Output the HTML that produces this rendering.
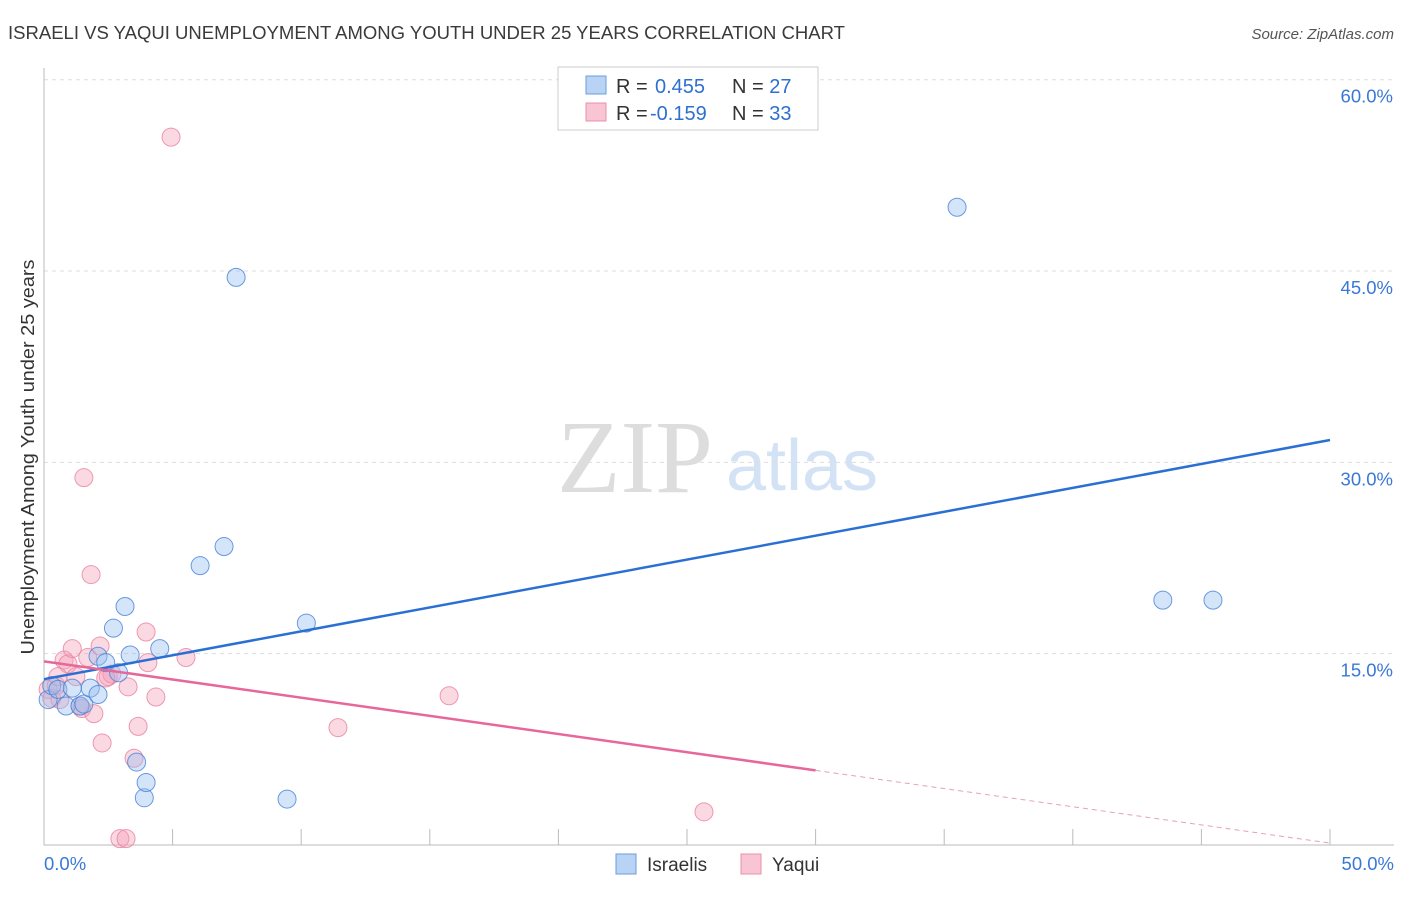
<!DOCTYPE html>
<html><head><meta charset="utf-8"><style>
body{margin:0;background:#fff;font-family:"Liberation Sans",sans-serif}
</style></head><body>
<svg id="c" width="1406" height="892" xmlns="http://www.w3.org/2000/svg">
<text x="8" y="39" font-size="18" fill="#3a3a3a" textLength="837" lengthAdjust="spacingAndGlyphs">ISRAELI VS YAQUI UNEMPLOYMENT AMONG YOUTH UNDER 25 YEARS CORRELATION CHART</text>
<text x="1394" y="39" font-size="15" fill="#555" font-style="italic" text-anchor="end">Source: ZipAtlas.com</text>
<text x="635" y="492" font-size="104" fill="#ddd" font-family="Liberation Serif" text-anchor="middle">ZIP</text>
<text x="802" y="490" font-size="72" fill="#d3e2f5" text-anchor="middle">atlas</text>
<text x="0" y="0" transform="translate(34,457) rotate(-90)" font-size="18" fill="#333" text-anchor="middle" textLength="395" lengthAdjust="spacingAndGlyphs">Unemployment Among Youth under 25 years</text>
<g id="grid"></g><g id="pts"></g><g id="lines"></g>
<g>
<rect x="558" y="67" width="260" height="63" fill="#fff" stroke="#ccc"/>
<rect x="586" y="76" width="20" height="18" fill="#b9d3f5" stroke="#6a9ee0"/>
<rect x="586" y="103" width="20" height="18" fill="#f9c4d3" stroke="#e890aa"/>
<text x="616" y="93" font-size="20" fill="#333">R = <tspan x="655" fill="#2f6fd0">0.455</tspan><tspan x="732">N = </tspan><tspan fill="#2f6fd0">27</tspan></text>
<text x="616" y="120" font-size="20" fill="#333">R = <tspan x="650" fill="#2f6fd0">-0.159</tspan><tspan x="732">N = </tspan><tspan fill="#2f6fd0">33</tspan></text>
</g>
<g>
<rect x="616" y="854" width="20" height="20" fill="#b9d3f5" stroke="#6a9ee0"/>
<text x="647" y="871" font-size="19" fill="#333">Israelis</text>
<rect x="741" y="854" width="20" height="20" fill="#f9c4d3" stroke="#e890aa"/>
<text x="772" y="871" font-size="19" fill="#333">Yaqui</text>
</g>
</svg>
<script>
const yTicks=[15,30,45,60];
const yTickLabels=["15.0%","30.0%","45.0%","60.0%"];
const xTickLabels=["0.0%","50.0%"];
const israelisX=[0.16,0.3,0.54,0.86,1.1,1.4,1.55,1.8,2.1,2.1,2.4,2.7,2.9,3.15,3.35,3.6,3.9,3.97,4.5,6.07,7.0,7.47,9.45,10.2,35.5,43.5,45.45];
const israelisY=[11.4,12.5,12.2,10.9,12.3,10.9,11.05,12.3,11.8,14.8,14.3,17.0,13.5,18.7,14.9,6.5,3.7,4.9,15.4,21.9,23.4,44.5,3.6,17.4,50.0,19.2,19.2];
const yaquiX=[4.94,1.55,1.83,0.16,0.3,0.47,0.62,0.78,0.93,1.1,1.24,1.47,1.7,1.94,2.18,2.26,2.5,2.64,3.27,3.5,3.66,3.97,4.04,4.35,5.52,2.95,3.19,11.43,15.75,25.66,0.54,2.4,1.4];
const yaquiY=[55.5,28.8,21.2,12.2,11.5,12.5,11.4,14.5,14.2,15.4,13.2,10.7,14.7,10.3,15.6,8.0,13.2,13.4,12.4,6.8,9.3,16.7,14.3,11.6,14.7,0.5,0.5,9.2,11.7,2.6,13.2,13.1,10.9];
const blueTrend=[13.0,31.75];
const pinkTrend=[14.4,0.15];
const pinkSolidEnd=30;
const X=v=>44+v*25.72, Y=v=>845-v*12.755;
const NS="http://www.w3.org/2000/svg";
function mk(t,a,p){const e=document.createElementNS(NS,t);for(const k in a)e.setAttribute(k,a[k]);p.appendChild(e);return e;}
const g=document.getElementById('grid');
yTicks.forEach((t,i)=>{
 const l=mk('line',{x1:44,x2:1394,y1:Y(t),y2:Y(t),stroke:'#ddd','stroke-dasharray':'4,4'},g);
 
 
 const tx=mk('text',{x:1393,y:Y(t)+23,'font-size':18.5,fill:'#3a78d6','text-anchor':'end'},g);
 tx.textContent=yTickLabels[i];
 
 
});
const ax=mk('path',{d:'M44,68V845H1394',stroke:'#bbb',fill:'none'},g);


for(let i=1;i<=10;i++){const t=mk('line',{x1:X(i*5),x2:X(i*5),y1:829,y2:845,stroke:'#bbb'},g);
 
 }
[[0,'start'],[50,'end']].forEach((d,i)=>{const t=mk('text',{x:d[0]?1394:44,y:870,'font-size':18.5,fill:'#3a78d6','text-anchor':d[1]},g);t.textContent=xTickLabels[i];
 
 });
const p=document.getElementById('pts');
yaquiX.forEach((x,i)=>{const c=mk('circle',{cx:X(x),cy:Y(yaquiY[i]),r:9,fill:'rgba(245,160,185,0.4)',stroke:'rgba(232,130,160,0.8)','stroke-width':1},p);
 
 });
israelisX.forEach((x,i)=>{const c=mk('circle',{cx:X(x),cy:Y(israelisY[i]),r:9,fill:'rgba(150,190,240,0.4)',stroke:'rgba(70,130,215,0.8)','stroke-width':1},p);
 
 });
const L=document.getElementById('lines');
const pv=x=>pinkTrend[0]+(pinkTrend[1]-pinkTrend[0])*x/50;
let a=mk('line',{x1:X(0),y1:Y(blueTrend[0]),x2:X(50),y2:Y(blueTrend[1]),stroke:'#2a70d4','stroke-width':2.5},L);


a=mk('line',{x1:X(0),y1:Y(pv(0)),x2:X(pinkSolidEnd),y2:Y(pv(pinkSolidEnd)),stroke:'#e8679a','stroke-width':2.5},L);


a=mk('line',{x1:X(pinkSolidEnd),y1:Y(pv(pinkSolidEnd)),x2:X(50),y2:Y(pv(50)),stroke:'#e8a0b8','stroke-width':1,'stroke-dasharray':'5,4'},L);


</script>
</body></html>
